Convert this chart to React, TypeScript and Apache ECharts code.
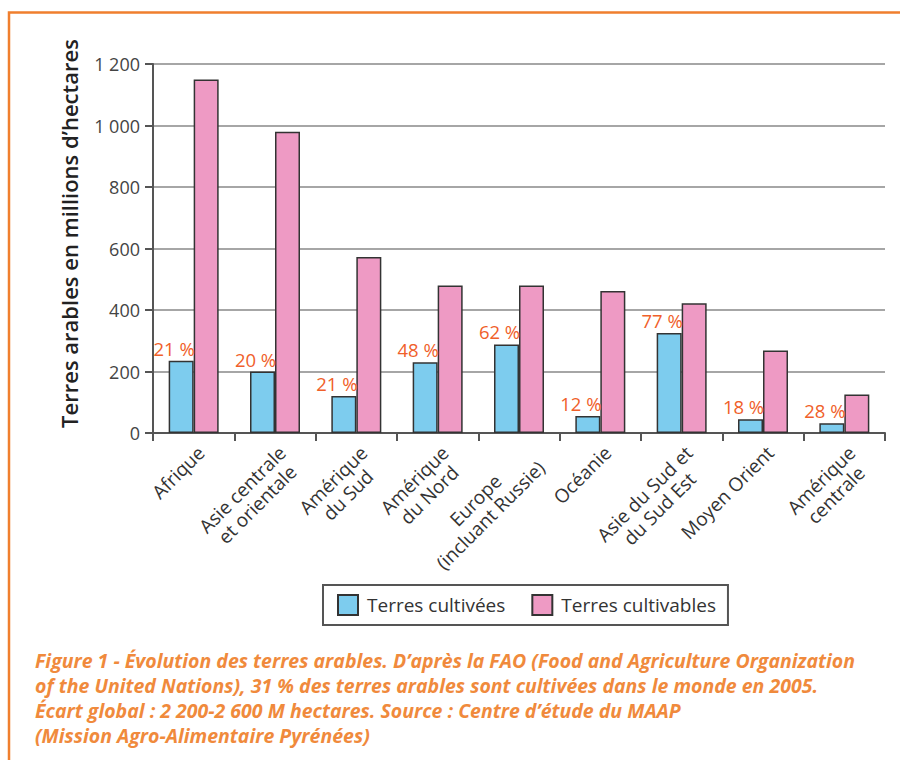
import React, { useEffect, useRef } from "react";
import * as echarts from "echarts";

const categories = [
  "Afrique",
  "Asie centrale\net orientale",
  "Amérique\ndu Sud",
  "Amérique\ndu Nord",
  "Europe\n(incluant Russie)",
  "Océanie",
  "Asie du Sud et\ndu Sud Est",
  "Moyen Orient",
  "Amérique\ncentrale",
];
const cultivees = [235, 200, 120, 230, 288, 55, 325, 45, 32];
const cultivables = [1150, 980, 572, 480, 480, 462, 422, 268, 125];
const pctLabels = ["21 %", "20 %", "21 %", "48 %", "62 %", "12 %", "77 %", "18 %", "28 %"];
const yTicks = [0, 200, 400, 600, 800, 1000, 1200];
const captionLines = [
  "Figure 1 - Évolution des terres arables. D’après la FAO (Food and Agriculture Organization",
  "of the United Nations), 31 % des terres arables sont cultivées dans le monde en 2005.",
  "Écart global : 2 200-2 600 M hectares. Source : Centre d’étude du MAAP",
  "(Mission Agro-Alimentaire Pyrénées)",
];

const FONT = "'Open Sans', 'Noto Sans', sans-serif";

export default function App() {
  const ref = useRef<HTMLDivElement>(null);
  useEffect(() => {
    if (!ref.current) return;
    const chart = echarts.init(ref.current, null, { renderer: "svg" });
    const fmtNum = (v: number) =>
      v >= 1000 ? `${Math.floor(v / 1000)} ${String(v % 1000).padStart(3, "0")}` : String(v);
    chart.setOption({
      animation: false,
      backgroundColor: "#ffffff",
      textStyle: { fontFamily: FONT },
      title: {
        text: captionLines.join("\n"),
        left: 30,
        top: 643,
        textStyle: {
          fontFamily: FONT,
          fontStyle: "italic",
          fontWeight: 700,
          fontSize: 19.5,
          lineHeight: 25,
          color: "#F08A3C",
        },
      },
      graphic: [
        {
          type: "polyline",
          shape: { points: [[9, 760], [9, 12.5], [900, 12.5]] },
          style: { stroke: "#F07F2E", lineWidth: 2.5, fill: "none" },
          silent: true,
        },
      ],
      legend: {
        left: 323,
        top: 585,
        padding: [9, 12, 9, 14],
        borderColor: "#555",
        borderWidth: 2,
        itemGap: 26,
        itemWidth: 20,
        itemHeight: 20,
        icon: "rect",
        textStyle: { fontFamily: FONT, fontSize: 19, color: "#333", padding: [0, 0, 0, 4] },
        data: ["Terres cultivées", "Terres cultivables"],
      },
      grid: { left: 153, right: 15, top: 64, bottom: 327 },
      xAxis: {
        type: "category",
        data: categories,
        axisLine: { lineStyle: { color: "#555", width: 2 } },
        axisTick: { show: true, length: 8, lineStyle: { color: "#555", width: 2 } },
        axisLabel: {
          rotate: 45,
          margin: 9,
          align: "right",
          verticalAlign: "top",
          interval: 0,
          formatter: (v: string) =>
            v
              .split("\n")
              .map((l) => `{c|${l}}`)
              .join("\n"),
          rich: {
            c: { align: "center", fontFamily: FONT, fontSize: 19, color: "#333", lineHeight: 21 },
          },
        },
      },
      yAxis: {
        type: "value",
        min: 0,
        max: 1200,
        interval: 200,
        name: "Terres arables en millions d’hectares",
        nameLocation: "middle",
        nameGap: 73,
        nameTextStyle: {
          fontFamily: FONT,
          fontSize: 22,
          fontWeight: 600,
          color: "#222",
          padding: [0, 0, 0, 30],
        },
        axisLine: { show: true, lineStyle: { color: "#555", width: 2 } },
        axisTick: { show: true, length: 8, lineStyle: { color: "#555", width: 2 } },
        axisLabel: {
          margin: 13,
          fontFamily: FONT,
          fontSize: 18,
          color: "#444",
          formatter: (v: number) => (yTicks.includes(v) ? fmtNum(v) : ""),
        },
        splitLine: { show: true, lineStyle: { color: "#888", width: 1.5 } },
      },
      series: [
        {
          name: "Terres cultivées",
          type: "bar",
          data: cultivees,
          barWidth: 25,
          barGap: "0%",
          itemStyle: { color: "#7DCCEE", borderColor: "#333", borderWidth: 1.5 },
          label: {
            show: true,
            position: "top",
            distance: 3,
            offset: [-7, 0],
            formatter: (p: any) => pctLabels[p.dataIndex],
            fontFamily: FONT,
            fontSize: 18.5,
            color: "#F0602A",
          },
        },
        {
          name: "Terres cultivables",
          type: "bar",
          data: cultivables,
          barWidth: 25,
          barGap: "0%",
          itemStyle: { color: "#EE9AC4", borderColor: "#333", borderWidth: 1.5 },
        },
      ],
    });
    return () => chart.dispose();
  }, []);
  return (
    <div
      ref={ref}
      style={{ position: "absolute", left: 0, top: 0, width: 900, height: 760 }}
    />
  );
}
